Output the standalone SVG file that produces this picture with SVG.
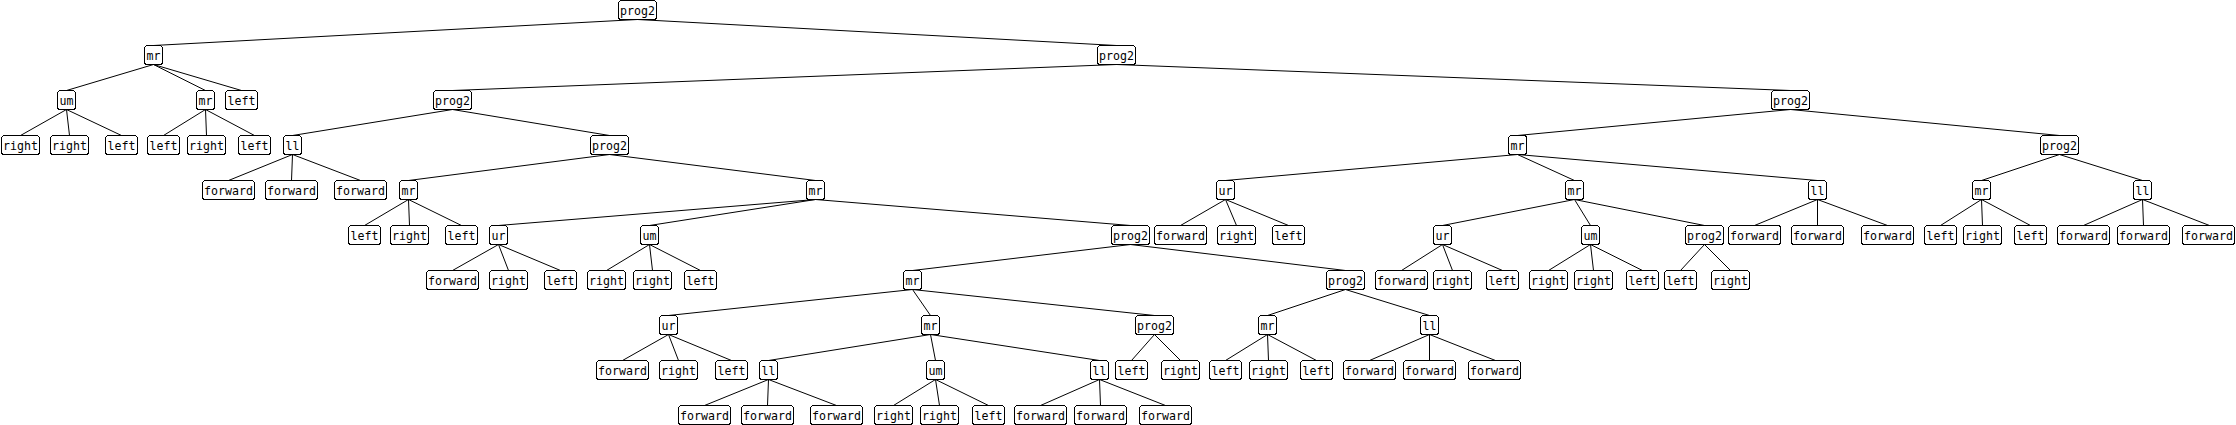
<svg xmlns="http://www.w3.org/2000/svg" width="2236" height="425" viewBox="0 0 2236 425">
<style>
.box{fill:#fff;stroke:#000;stroke-width:1;shape-rendering:crispEdges}
.n text{font-family:'DejaVu Sans Mono','Liberation Mono',monospace;font-size:11.6px;text-anchor:middle;fill:#000}
#edges line{stroke:#000;stroke-width:1}
</style>
<defs>
<rect id="w2" class="box" x="-9" y="0" width="18" height="19" rx="3"/>
<rect id="w4" class="box" x="-16" y="0" width="32" height="19" rx="3"/>
<rect id="w5" class="box" x="-19" y="0" width="38" height="19" rx="3"/>
<rect id="w7" class="box" x="-26" y="0" width="52" height="19" rx="3"/>
</defs>
<rect width="2236" height="425" fill="#fff"/>
<g id="edges">
<line x1="637.5" y1="19.5" x2="153.5" y2="45.5"/><line x1="637.5" y1="19.5" x2="1116.5" y2="45.5"/>
<line x1="153.5" y1="64.5" x2="66.5" y2="90.5"/><line x1="153.5" y1="64.5" x2="205.5" y2="90.5"/><line x1="153.5" y1="64.5" x2="241.5" y2="90.5"/>
<line x1="1116.5" y1="64.5" x2="452.5" y2="90.5"/><line x1="1116.5" y1="64.5" x2="1790.5" y2="90.5"/>
<line x1="66.5" y1="109.5" x2="20.5" y2="135.5"/><line x1="66.5" y1="109.5" x2="69.5" y2="135.5"/><line x1="66.5" y1="109.5" x2="121.5" y2="135.5"/>
<line x1="205.5" y1="109.5" x2="163.5" y2="135.5"/><line x1="205.5" y1="109.5" x2="206.5" y2="135.5"/><line x1="205.5" y1="109.5" x2="254.5" y2="135.5"/>
<line x1="452.5" y1="109.5" x2="292.5" y2="135.5"/><line x1="452.5" y1="109.5" x2="609.5" y2="135.5"/>
<line x1="1790.5" y1="109.5" x2="1517.5" y2="135.5"/><line x1="1790.5" y1="109.5" x2="2059.5" y2="135.5"/>
<line x1="292.5" y1="154.5" x2="228.5" y2="180.5"/><line x1="292.5" y1="154.5" x2="291.5" y2="180.5"/><line x1="292.5" y1="154.5" x2="360.5" y2="180.5"/>
<line x1="609.5" y1="154.5" x2="408.5" y2="180.5"/><line x1="609.5" y1="154.5" x2="815.5" y2="180.5"/>
<line x1="1517.5" y1="154.5" x2="1225.5" y2="180.5"/><line x1="1517.5" y1="154.5" x2="1574.5" y2="180.5"/><line x1="1517.5" y1="154.5" x2="1817.5" y2="180.5"/>
<line x1="2059.5" y1="154.5" x2="1981.5" y2="180.5"/><line x1="2059.5" y1="154.5" x2="2142.5" y2="180.5"/>
<line x1="408.5" y1="199.5" x2="364.5" y2="225.5"/><line x1="408.5" y1="199.5" x2="409.5" y2="225.5"/><line x1="408.5" y1="199.5" x2="461.5" y2="225.5"/>
<line x1="815.5" y1="199.5" x2="498.5" y2="225.5"/><line x1="815.5" y1="199.5" x2="649.5" y2="225.5"/><line x1="815.5" y1="199.5" x2="1130.5" y2="225.5"/>
<line x1="1225.5" y1="199.5" x2="1180.5" y2="225.5"/><line x1="1225.5" y1="199.5" x2="1236.5" y2="225.5"/><line x1="1225.5" y1="199.5" x2="1288.5" y2="225.5"/>
<line x1="1574.5" y1="199.5" x2="1442.5" y2="225.5"/><line x1="1574.5" y1="199.5" x2="1590.5" y2="225.5"/><line x1="1574.5" y1="199.5" x2="1704.5" y2="225.5"/>
<line x1="1817.5" y1="199.5" x2="1754.5" y2="225.5"/><line x1="1817.5" y1="199.5" x2="1817.5" y2="225.5"/><line x1="1817.5" y1="199.5" x2="1887.5" y2="225.5"/>
<line x1="1981.5" y1="199.5" x2="1940.5" y2="225.5"/><line x1="1981.5" y1="199.5" x2="1982.5" y2="225.5"/><line x1="1981.5" y1="199.5" x2="2030.5" y2="225.5"/>
<line x1="2142.5" y1="199.5" x2="2083.5" y2="225.5"/><line x1="2142.5" y1="199.5" x2="2143.5" y2="225.5"/><line x1="2142.5" y1="199.5" x2="2209.5" y2="225.5"/>
<line x1="498.5" y1="244.5" x2="452.5" y2="270.5"/><line x1="498.5" y1="244.5" x2="508.5" y2="270.5"/><line x1="498.5" y1="244.5" x2="560.5" y2="270.5"/>
<line x1="649.5" y1="244.5" x2="606.5" y2="270.5"/><line x1="649.5" y1="244.5" x2="652.5" y2="270.5"/><line x1="649.5" y1="244.5" x2="700.5" y2="270.5"/>
<line x1="1130.5" y1="244.5" x2="912.5" y2="270.5"/><line x1="1130.5" y1="244.5" x2="1345.5" y2="270.5"/>
<line x1="1442.5" y1="244.5" x2="1401.5" y2="270.5"/><line x1="1442.5" y1="244.5" x2="1452.5" y2="270.5"/><line x1="1442.5" y1="244.5" x2="1502.5" y2="270.5"/>
<line x1="1590.5" y1="244.5" x2="1548.5" y2="270.5"/><line x1="1590.5" y1="244.5" x2="1593.5" y2="270.5"/><line x1="1590.5" y1="244.5" x2="1642.5" y2="270.5"/>
<line x1="1704.5" y1="244.5" x2="1680.5" y2="270.5"/><line x1="1704.5" y1="244.5" x2="1730.5" y2="270.5"/>
<line x1="912.5" y1="289.5" x2="668.5" y2="315.5"/><line x1="912.5" y1="289.5" x2="930.5" y2="315.5"/><line x1="912.5" y1="289.5" x2="1154.5" y2="315.5"/>
<line x1="1345.5" y1="289.5" x2="1267.5" y2="315.5"/><line x1="1345.5" y1="289.5" x2="1429.5" y2="315.5"/>
<line x1="668.5" y1="334.5" x2="622.5" y2="360.5"/><line x1="668.5" y1="334.5" x2="678.5" y2="360.5"/><line x1="668.5" y1="334.5" x2="731.5" y2="360.5"/>
<line x1="930.5" y1="334.5" x2="768.5" y2="360.5"/><line x1="930.5" y1="334.5" x2="935.5" y2="360.5"/><line x1="930.5" y1="334.5" x2="1099.5" y2="360.5"/>
<line x1="1154.5" y1="334.5" x2="1131.5" y2="360.5"/><line x1="1154.5" y1="334.5" x2="1180.5" y2="360.5"/>
<line x1="1267.5" y1="334.5" x2="1225.5" y2="360.5"/><line x1="1267.5" y1="334.5" x2="1268.5" y2="360.5"/><line x1="1267.5" y1="334.5" x2="1316.5" y2="360.5"/>
<line x1="1429.5" y1="334.5" x2="1369.5" y2="360.5"/><line x1="1429.5" y1="334.5" x2="1429.5" y2="360.5"/><line x1="1429.5" y1="334.5" x2="1495.5" y2="360.5"/>
<line x1="768.5" y1="379.5" x2="704.5" y2="405.5"/><line x1="768.5" y1="379.5" x2="767.5" y2="405.5"/><line x1="768.5" y1="379.5" x2="836.5" y2="405.5"/>
<line x1="935.5" y1="379.5" x2="893.5" y2="405.5"/><line x1="935.5" y1="379.5" x2="939.5" y2="405.5"/><line x1="935.5" y1="379.5" x2="988.5" y2="405.5"/>
<line x1="1099.5" y1="379.5" x2="1040.5" y2="405.5"/><line x1="1099.5" y1="379.5" x2="1100.5" y2="405.5"/><line x1="1099.5" y1="379.5" x2="1165.5" y2="405.5"/>
</g>
<g id="n0" class="n" transform="translate(637.5,0.5)"><use href="#w5"/><text y="14">prog2</text></g>
<g id="n1" class="n" transform="translate(153.5,45.5)"><use href="#w2"/><text y="14">mr</text></g>
<g id="n2" class="n" transform="translate(1116.5,45.5)"><use href="#w5"/><text y="14">prog2</text></g>
<g id="n3" class="n" transform="translate(66.5,90.5)"><use href="#w2"/><text y="14">um</text></g>
<g id="n4" class="n" transform="translate(205.5,90.5)"><use href="#w2"/><text y="14">mr</text></g>
<g id="n5" class="n" transform="translate(241.5,90.5)"><use href="#w4"/><text y="14">left</text></g>
<g id="n6" class="n" transform="translate(452.5,90.5)"><use href="#w5"/><text y="14">prog2</text></g>
<g id="n7" class="n" transform="translate(1790.5,90.5)"><use href="#w5"/><text y="14">prog2</text></g>
<g id="n8" class="n" transform="translate(20.5,135.5)"><use href="#w5"/><text y="14">right</text></g>
<g id="n9" class="n" transform="translate(69.5,135.5)"><use href="#w5"/><text y="14">right</text></g>
<g id="n10" class="n" transform="translate(121.5,135.5)"><use href="#w4"/><text y="14">left</text></g>
<g id="n11" class="n" transform="translate(163.5,135.5)"><use href="#w4"/><text y="14">left</text></g>
<g id="n12" class="n" transform="translate(206.5,135.5)"><use href="#w5"/><text y="14">right</text></g>
<g id="n13" class="n" transform="translate(254.5,135.5)"><use href="#w4"/><text y="14">left</text></g>
<g id="n14" class="n" transform="translate(292.5,135.5)"><use href="#w2"/><text y="14">ll</text></g>
<g id="n15" class="n" transform="translate(609.5,135.5)"><use href="#w5"/><text y="14">prog2</text></g>
<g id="n16" class="n" transform="translate(1517.5,135.5)"><use href="#w2"/><text y="14">mr</text></g>
<g id="n17" class="n" transform="translate(2059.5,135.5)"><use href="#w5"/><text y="14">prog2</text></g>
<g id="n18" class="n" transform="translate(228.5,180.5)"><use href="#w7"/><text y="14">forward</text></g>
<g id="n19" class="n" transform="translate(291.5,180.5)"><use href="#w7"/><text y="14">forward</text></g>
<g id="n20" class="n" transform="translate(360.5,180.5)"><use href="#w7"/><text y="14">forward</text></g>
<g id="n21" class="n" transform="translate(408.5,180.5)"><use href="#w2"/><text y="14">mr</text></g>
<g id="n22" class="n" transform="translate(815.5,180.5)"><use href="#w2"/><text y="14">mr</text></g>
<g id="n23" class="n" transform="translate(1225.5,180.5)"><use href="#w2"/><text y="14">ur</text></g>
<g id="n24" class="n" transform="translate(1574.5,180.5)"><use href="#w2"/><text y="14">mr</text></g>
<g id="n25" class="n" transform="translate(1817.5,180.5)"><use href="#w2"/><text y="14">ll</text></g>
<g id="n26" class="n" transform="translate(1981.5,180.5)"><use href="#w2"/><text y="14">mr</text></g>
<g id="n27" class="n" transform="translate(2142.5,180.5)"><use href="#w2"/><text y="14">ll</text></g>
<g id="n28" class="n" transform="translate(364.5,225.5)"><use href="#w4"/><text y="14">left</text></g>
<g id="n29" class="n" transform="translate(409.5,225.5)"><use href="#w5"/><text y="14">right</text></g>
<g id="n30" class="n" transform="translate(461.5,225.5)"><use href="#w4"/><text y="14">left</text></g>
<g id="n31" class="n" transform="translate(498.5,225.5)"><use href="#w2"/><text y="14">ur</text></g>
<g id="n32" class="n" transform="translate(649.5,225.5)"><use href="#w2"/><text y="14">um</text></g>
<g id="n33" class="n" transform="translate(1130.5,225.5)"><use href="#w5"/><text y="14">prog2</text></g>
<g id="n34" class="n" transform="translate(1180.5,225.5)"><use href="#w7"/><text y="14">forward</text></g>
<g id="n35" class="n" transform="translate(1236.5,225.5)"><use href="#w5"/><text y="14">right</text></g>
<g id="n36" class="n" transform="translate(1288.5,225.5)"><use href="#w4"/><text y="14">left</text></g>
<g id="n37" class="n" transform="translate(1442.5,225.5)"><use href="#w2"/><text y="14">ur</text></g>
<g id="n38" class="n" transform="translate(1590.5,225.5)"><use href="#w2"/><text y="14">um</text></g>
<g id="n39" class="n" transform="translate(1704.5,225.5)"><use href="#w5"/><text y="14">prog2</text></g>
<g id="n40" class="n" transform="translate(1754.5,225.5)"><use href="#w7"/><text y="14">forward</text></g>
<g id="n41" class="n" transform="translate(1817.5,225.5)"><use href="#w7"/><text y="14">forward</text></g>
<g id="n42" class="n" transform="translate(1887.5,225.5)"><use href="#w7"/><text y="14">forward</text></g>
<g id="n43" class="n" transform="translate(1940.5,225.5)"><use href="#w4"/><text y="14">left</text></g>
<g id="n44" class="n" transform="translate(1982.5,225.5)"><use href="#w5"/><text y="14">right</text></g>
<g id="n45" class="n" transform="translate(2030.5,225.5)"><use href="#w4"/><text y="14">left</text></g>
<g id="n46" class="n" transform="translate(2083.5,225.5)"><use href="#w7"/><text y="14">forward</text></g>
<g id="n47" class="n" transform="translate(2143.5,225.5)"><use href="#w7"/><text y="14">forward</text></g>
<g id="n48" class="n" transform="translate(2208.5,225.5)"><use href="#w7"/><text y="14">forward</text></g>
<g id="n49" class="n" transform="translate(452.5,270.5)"><use href="#w7"/><text y="14">forward</text></g>
<g id="n50" class="n" transform="translate(508.5,270.5)"><use href="#w5"/><text y="14">right</text></g>
<g id="n51" class="n" transform="translate(560.5,270.5)"><use href="#w4"/><text y="14">left</text></g>
<g id="n52" class="n" transform="translate(606.5,270.5)"><use href="#w5"/><text y="14">right</text></g>
<g id="n53" class="n" transform="translate(652.5,270.5)"><use href="#w5"/><text y="14">right</text></g>
<g id="n54" class="n" transform="translate(700.5,270.5)"><use href="#w4"/><text y="14">left</text></g>
<g id="n55" class="n" transform="translate(912.5,270.5)"><use href="#w2"/><text y="14">mr</text></g>
<g id="n56" class="n" transform="translate(1345.5,270.5)"><use href="#w5"/><text y="14">prog2</text></g>
<g id="n57" class="n" transform="translate(1401.5,270.5)"><use href="#w7"/><text y="14">forward</text></g>
<g id="n58" class="n" transform="translate(1452.5,270.5)"><use href="#w5"/><text y="14">right</text></g>
<g id="n59" class="n" transform="translate(1502.5,270.5)"><use href="#w4"/><text y="14">left</text></g>
<g id="n60" class="n" transform="translate(1548.5,270.5)"><use href="#w5"/><text y="14">right</text></g>
<g id="n61" class="n" transform="translate(1593.5,270.5)"><use href="#w5"/><text y="14">right</text></g>
<g id="n62" class="n" transform="translate(1642.5,270.5)"><use href="#w4"/><text y="14">left</text></g>
<g id="n63" class="n" transform="translate(1680.5,270.5)"><use href="#w4"/><text y="14">left</text></g>
<g id="n64" class="n" transform="translate(1730.5,270.5)"><use href="#w5"/><text y="14">right</text></g>
<g id="n65" class="n" transform="translate(668.5,315.5)"><use href="#w2"/><text y="14">ur</text></g>
<g id="n66" class="n" transform="translate(930.5,315.5)"><use href="#w2"/><text y="14">mr</text></g>
<g id="n67" class="n" transform="translate(1154.5,315.5)"><use href="#w5"/><text y="14">prog2</text></g>
<g id="n68" class="n" transform="translate(1267.5,315.5)"><use href="#w2"/><text y="14">mr</text></g>
<g id="n69" class="n" transform="translate(1429.5,315.5)"><use href="#w2"/><text y="14">ll</text></g>
<g id="n70" class="n" transform="translate(622.5,360.5)"><use href="#w7"/><text y="14">forward</text></g>
<g id="n71" class="n" transform="translate(678.5,360.5)"><use href="#w5"/><text y="14">right</text></g>
<g id="n72" class="n" transform="translate(731.5,360.5)"><use href="#w4"/><text y="14">left</text></g>
<g id="n73" class="n" transform="translate(768.5,360.5)"><use href="#w2"/><text y="14">ll</text></g>
<g id="n74" class="n" transform="translate(935.5,360.5)"><use href="#w2"/><text y="14">um</text></g>
<g id="n75" class="n" transform="translate(1099.5,360.5)"><use href="#w2"/><text y="14">ll</text></g>
<g id="n76" class="n" transform="translate(1131.5,360.5)"><use href="#w4"/><text y="14">left</text></g>
<g id="n77" class="n" transform="translate(1180.5,360.5)"><use href="#w5"/><text y="14">right</text></g>
<g id="n78" class="n" transform="translate(1225.5,360.5)"><use href="#w4"/><text y="14">left</text></g>
<g id="n79" class="n" transform="translate(1268.5,360.5)"><use href="#w5"/><text y="14">right</text></g>
<g id="n80" class="n" transform="translate(1316.5,360.5)"><use href="#w4"/><text y="14">left</text></g>
<g id="n81" class="n" transform="translate(1369.5,360.5)"><use href="#w7"/><text y="14">forward</text></g>
<g id="n82" class="n" transform="translate(1429.5,360.5)"><use href="#w7"/><text y="14">forward</text></g>
<g id="n83" class="n" transform="translate(1494.5,360.5)"><use href="#w7"/><text y="14">forward</text></g>
<g id="n84" class="n" transform="translate(704.5,405.5)"><use href="#w7"/><text y="14">forward</text></g>
<g id="n85" class="n" transform="translate(767.5,405.5)"><use href="#w7"/><text y="14">forward</text></g>
<g id="n86" class="n" transform="translate(836.5,405.5)"><use href="#w7"/><text y="14">forward</text></g>
<g id="n87" class="n" transform="translate(893.5,405.5)"><use href="#w5"/><text y="14">right</text></g>
<g id="n88" class="n" transform="translate(939.5,405.5)"><use href="#w5"/><text y="14">right</text></g>
<g id="n89" class="n" transform="translate(988.5,405.5)"><use href="#w4"/><text y="14">left</text></g>
<g id="n90" class="n" transform="translate(1040.5,405.5)"><use href="#w7"/><text y="14">forward</text></g>
<g id="n91" class="n" transform="translate(1100.5,405.5)"><use href="#w7"/><text y="14">forward</text></g>
<g id="n92" class="n" transform="translate(1165.5,405.5)"><use href="#w7"/><text y="14">forward</text></g>
</svg>
